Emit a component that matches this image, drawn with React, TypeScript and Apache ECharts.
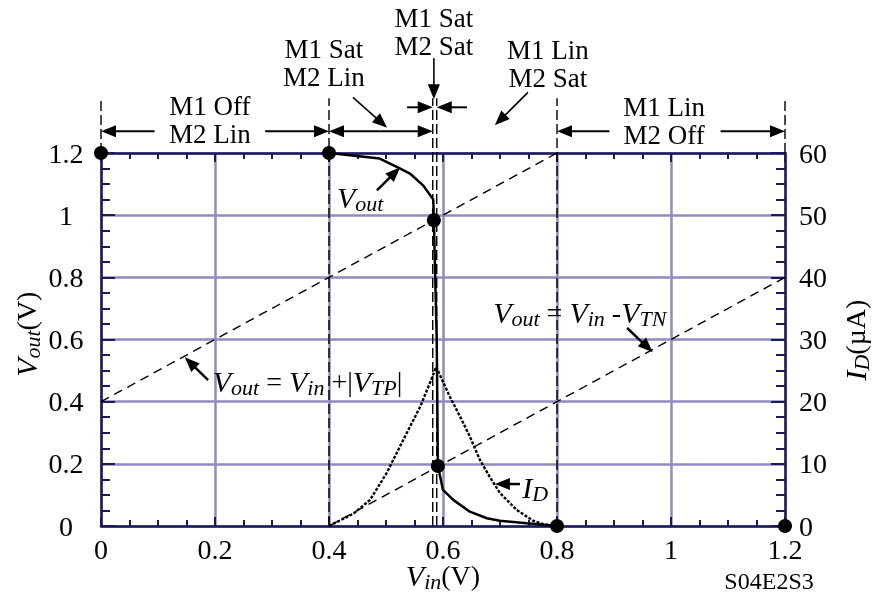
import React, { useEffect, useRef } from "react";
import * as echarts from "echarts";

// ---- data ----
const voutVin = [0.4, 0.437, 0.489, 0.525, 0.542, 0.565, 0.583, 0.584, 0.589, 0.591, 0.595, 0.6, 0.618, 0.647, 0.677, 0.7, 0.747, 0.782, 0.8];
const voutVal = [1.2, 1.193, 1.182, 1.15, 1.134, 1.096, 1.05, 0.984, 0.598, 0.193, 0.159, 0.116, 0.084, 0.046, 0.025, 0.017, 0.0086, 0.003, 0];

const idVin = [0.4, 0.443, 0.472, 0.501, 0.53, 0.56, 0.577, 0.588, 0.612, 0.63, 0.647, 0.665, 0.682, 0.7, 0.729, 0.758, 0.776, 0.8];
const idVal = [0, 2.0, 4.2, 8.5, 13.8, 19.2, 23.0, 25.6, 20.8, 17.6, 14.4, 10.6, 7.9, 5.3, 2.6, 0.85, 0.3, 0];

const markerVin = [0, 0.4, 0.584, 0.591, 0.8, 1.2];
const markerVout = [1.2, 1.2, 0.984, 0.193, 0, 0];

// Vout = Vin + |VTP| and Vout = Vin - VTN
const pLineVin = [0, 0.8];
const pLineVout = [0.4, 1.2];
const nLineVin = [0.4, 1.2];
const nLineVout = [0, 0.8];

const boundsFull = [0.4, 0.582, 0.589, 0.8];
const boundsTop = [0, 1.2];
const boundTopValue = 1.376;

const xTicks = { min: 0, max: 1.2, interval: 0.2 };
const yTicks = { min: 0, max: 1.2, interval: 0.2 };
const idTicks = { min: 0, max: 60, interval: 10 };

const SERIF = "'Liberation Serif', 'Times New Roman', serif";
const NAVY = "#1b1a5e";
const GRID = "#8f8bbf";

const rich = {
  i: { fontFamily: SERIF, fontStyle: "italic", fontSize: 30, fill: "#000" },
  s: { fontFamily: SERIF, fontStyle: "italic", fontSize: 22, fill: "#000", padding: [12, 0, 0, 0] },
  n: { fontFamily: SERIF, fontSize: 28, fill: "#000" },
};

export default function App() {
  const ref = useRef<HTMLDivElement>(null);
  useEffect(() => {
    if (!ref.current) return;
    const chart = echarts.init(ref.current, null, { renderer: "svg" });
    const axisLine = { show: true, onZero: false, lineStyle: { color: NAVY, width: 2.5 } };
    const tickStyle = { color: NAVY, width: 2 };
    const label = { color: "#000", fontFamily: SERIF, fontSize: 28 };
    const dashed = (data: number[][], dash: number[], w = 1.4) => ({
      type: "line",
      data,
      symbol: "none",
      clip: false,
      silent: true,
      lineStyle: { color: "#000", width: w, type: dash },
      z: 3,
    });
    const series: any[] = [];
    series.push(dashed(pLineVin.map((v, k) => [v, pLineVout[k]]), [9, 6]));
    series.push(dashed(nLineVin.map((v, k) => [v, nLineVout[k]]), [9, 6]));
    boundsFull.forEach((b) => series.push(dashed([[b, 0], [b, boundTopValue]], [10, 4])));
    boundsTop.forEach((b) => series.push(dashed([[b, 1.2], [b, boundTopValue]], [10, 4])));
    series.push({
      type: "line",
      data: idVin.map((v, k) => [v, idVal[k]]),
      yAxisIndex: 1,
      symbol: "none",
      lineStyle: { color: "#000", width: 2.4, type: [3, 1.6] },
      z: 4,
    });
    series.push({
      type: "line",
      data: voutVin.map((v, k) => [v, voutVal[k]]),
      symbol: "none",
      lineStyle: { color: "#000", width: 2.5 },
      z: 5,
    });
    series.push({
      type: "scatter",
      data: markerVin.map((v, k) => [v, markerVout[k]]),
      symbolSize: 14,
      itemStyle: { color: "#000", opacity: 1 },
      clip: false,
      z: 6,
    });

    chart.setOption({
      animation: false,
      grid: { left: 101, right: 90, top: 153, bottom: 70, containLabel: false },
      xAxis: [
        {
          type: "value",
          ...xTicks,
          position: "bottom",
          axisLine,
          axisTick: { show: true, inside: true, length: 9, lineStyle: tickStyle },
          minorTick: { show: true, splitNumber: 4, length: 6, lineStyle: tickStyle },
          splitLine: { show: true, lineStyle: { color: GRID, width: 2.5 } },
          axisLabel: { ...label, margin: 9 },
        },
        {
          type: "value",
          ...xTicks,
          position: "top",
          axisLine,
          axisTick: { show: true, inside: true, length: 9, lineStyle: tickStyle },
          minorTick: { show: true, splitNumber: 4, length: 6, lineStyle: tickStyle },
          splitLine: { show: false },
          axisLabel: { show: false },
        },
      ],
      yAxis: [
        {
          type: "value",
          ...yTicks,
          position: "left",
          axisLine,
          axisTick: { show: true, inside: true, length: 14, lineStyle: tickStyle },
          minorTick: { show: true, splitNumber: 4, length: 9, lineStyle: tickStyle },
          splitLine: { show: true, lineStyle: { color: GRID, width: 2.5 } },
          axisLabel: { ...label, align: "center", margin: 35 },
        },
        {
          type: "value",
          ...idTicks,
          position: "right",
          axisLine,
          axisTick: { show: true, inside: true, length: 14, lineStyle: tickStyle },
          minorTick: { show: true, splitNumber: 4, length: 9, lineStyle: tickStyle },
          splitLine: { show: false },
          axisLabel: { ...label, align: "left", margin: 14 },
        },
      ],
      series,
    });

    const P = (p: number[]) => chart.convertToPixel({ gridIndex: 0 }, p) as number[];
    const els: any[] = [];
    const arrow = (from: number[], to: number[], w = 2, hl = 15, hw = 6) => {
      const A = P(from);
      const B = P(to);
      const dx = B[0] - A[0];
      const dy = B[1] - A[1];
      const L = Math.hypot(dx, dy) || 1;
      const ux = dx / L;
      const uy = dy / L;
      const bx = B[0] - ux * hl;
      const by = B[1] - uy * hl;
      els.push({
        type: "line",
        shape: { x1: A[0], y1: A[1], x2: bx + ux * 2, y2: by + uy * 2 },
        style: { stroke: "#000", lineWidth: w },
        z: 100,
      });
      els.push({
        type: "polygon",
        shape: { points: [[B[0], B[1]], [bx - uy * hw, by + ux * hw], [bx + uy * hw, by - ux * hw]] },
        style: { fill: "#000" },
        z: 100,
      });
    };
    const text = (p: number[], t: string, align = "center", rotation = 0, size = 28, r = false) => {
      const q = P(p);
      els.push({
        type: "text",
        x: q[0],
        y: q[1],
        rotation,
        z: 100,
        style: r
          ? { text: t, rich, align, verticalAlign: "middle" }
          : { text: t, fontFamily: SERIF, fontSize: size, lineHeight: 28, fill: "#000", align, verticalAlign: "middle" },
      });
    };

    // region labels above the plot (two lines each)
    text([0.191, 1.306], "M1 Off\nM2 Lin", "center", 0, 27);
    text([0.391, 1.489], "M1 Sat\nM2 Lin", "center", 0, 27);
    text([0.584, 1.59], "M1 Sat\nM2 Sat", "center", 0, 27);
    text([0.784, 1.486], "M1 Lin\nM2 Sat", "center", 0, 27);
    text([0.988, 1.304], "M1 Lin\nM2 Off", "center", 0, 27);

    arrow([0.094, 1.27], [0, 1.27]);
    arrow([0.288, 1.27], [0.4, 1.27]);
    arrow([0.49, 1.27], [0.4, 1.27]);
    arrow([0.49, 1.27], [0.582, 1.27]);
    arrow([0.442, 1.379], [0.502, 1.281], 1.6);
    arrow([0.584, 1.505], [0.584, 1.373], 1.6);
    arrow([0.537, 1.347], [0.582, 1.347]);
    arrow([0.642, 1.347], [0.589, 1.347]);
    arrow([0.749, 1.395], [0.691, 1.289], 1.6);
    arrow([0.892, 1.27], [0.8, 1.27]);
    arrow([1.087, 1.27], [1.2, 1.27]);

    // labels inside the plot
    text([0.414, 1.058], "{i|V}{s|out}", "left", 0, 28, true);
    arrow([0.484, 1.08], [0.525, 1.154], 2.5);
    text([0.196, 0.466], "{i|V}{s|out}{n| = }{i|V}{s|in}{n| +|}{i|V}{s|TP}{n||}", "left", 0, 28, true);
    arrow([0.188, 0.469], [0.147, 0.543], 2.5);
    text([0.688, 0.688], "{i|V}{s|out}{n| = }{i|V}{s|in}{n| -}{i|V}{s|TN}", "left", 0, 28, true);
    arrow([0.923, 0.637], [0.968, 0.559], 2.5);
    text([0.739, 0.125], "{i|I}{s|D}", "left", 0, 28, true);
    arrow([0.735, 0.135], [0.691, 0.135], 2.5);

    // axis titles
    text([0.6, -0.158], "{i|V}{s|in}{n|(V)}", "center", 0, 28, true);
    text([-0.13, 0.617], "{i|V}{s|out}{n|(V)}", "center", Math.PI / 2, 28, true);
    text([1.323, 0.598], "{i|I}{s|D}{n|(µA)}", "center", Math.PI / 2, 28, true);
    text([1.172, -0.177], "S04E2S3", "center", 0, 24);

    chart.setOption({ graphic: els });
    return () => chart.dispose();
  }, []);
  return <div ref={ref} style={{ position: "fixed", left: 0, top: 0, width: 875, height: 596 }} />;
}
